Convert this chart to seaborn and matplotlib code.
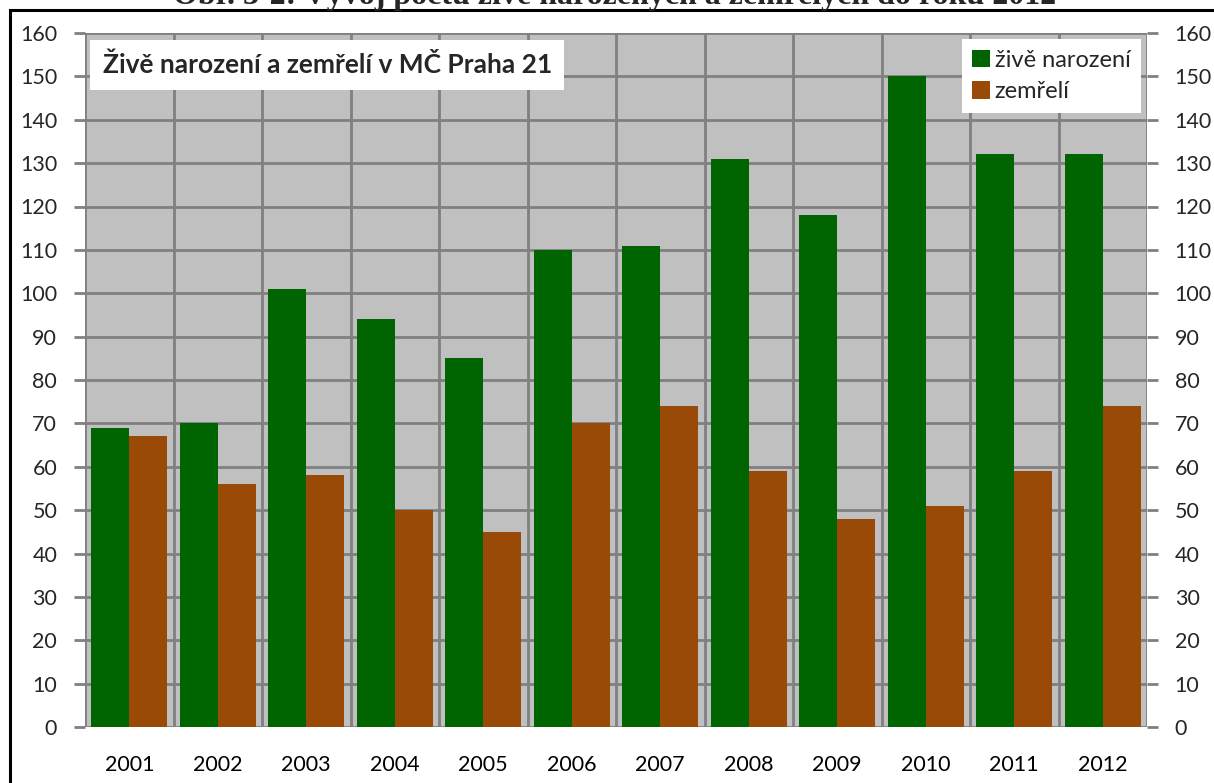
import pandas as pd
import numpy as np
import matplotlib.pyplot as plt
import seaborn as sns
from matplotlib.patches import Rectangle

years = ['2001', '2002', '2003', '2004', '2005', '2006',
         '2007', '2008', '2009', '2010', '2011', '2012']
narozeni = [69, 70, 101, 94, 85, 110, 111, 131, 118, 150, 132, 132]
zemreli = [67, 56, 58, 50, 45, 70, 74, 59, 48, 51, 59, 74]
series = ['živě narození', 'zemřelí']
colors = ['#006400', '#994A07']

df = pd.DataFrame({
    'rok': years * 2,
    'pocet': narozeni + zemreli,
    'serie': [series[0]] * len(years) + [series[1]] * len(years),
})

sns.set_style('white')
plt.rcParams['font.family'] = ['Lato', 'DejaVu Sans']

fig = plt.figure(figsize=(12.14, 7.83), dpi=100)
ax = fig.add_axes([85 / 1214, 56 / 783, 1062 / 1214, 694 / 783])
ax.set_facecolor('#C0C0C0')

sns.barplot(data=df, x='rok', y='pocet', hue='serie', palette=colors,
            width=0.86, saturation=1, ax=ax, zorder=3)
for p in ax.patches:
    p.set_linewidth(0)

ax.set_xlim(-0.5, len(years) - 0.5)
ax.set_ylim(0, 160)
ax.set_yticks(range(0, 161, 10))
ax.set_xticks(np.arange(-0.5, len(years), 1), minor=True)
ax.grid(True, axis='y', color='#808080', lw=2, zorder=0)
ax.grid(True, axis='x', which='minor', color='#808080', lw=2, zorder=0)
ax.grid(False, axis='x', which='major')
ax.set_axisbelow(True)
ax.set_xlabel('')
ax.set_ylabel('')

for side in ['top', 'right', 'left', 'bottom']:
    ax.spines[side].set_visible(False)

ax.tick_params(axis='x', which='major', length=0, labelsize=15.5, pad=20, labelcolor='black')
ax.tick_params(axis='x', which='minor', length=8, width=2, color='#808080', direction='out')
ax.tick_params(axis='y', length=8, width=2, color='#808080', direction='out',
               labelsize=15.5, pad=12, left=True, right=True, labelleft=True, labelright=True)

leg = ax.legend(loc='upper right', bbox_to_anchor=(0.9945, 0.9915), fontsize=17,
                frameon=True, fancybox=False, framealpha=1, edgecolor='white',
                handlelength=0.75, handleheight=0.75, handletextpad=0.2,
                labelspacing=0.45, borderpad=0.45, borderaxespad=0)
leg.get_frame().set_linewidth(0)

ax.text(0.0165, 0.954, 'Živě narození a zemřelí v MČ Praha 21', transform=ax.transAxes,
        fontsize=19, fontweight='bold', va='center', ha='left', zorder=5,
        bbox=dict(facecolor='white', edgecolor='none', pad=9))

fig.text(0.506, 1 - 4 / 783, 'Obr. 3-2: Vývoj počtu živě narozených a zemřelých do roku 2012',
         family='Liberation Serif', fontweight='bold', fontsize=23,
         ha='center', va='baseline')

fig.patches.append(Rectangle((10 / 1214, -0.1), 1.2, 1.1 - 10 / 783, transform=fig.transFigure,
                             fill=False, edgecolor='black', lw=2.2))

fig.savefig('out.png', dpi=100)
